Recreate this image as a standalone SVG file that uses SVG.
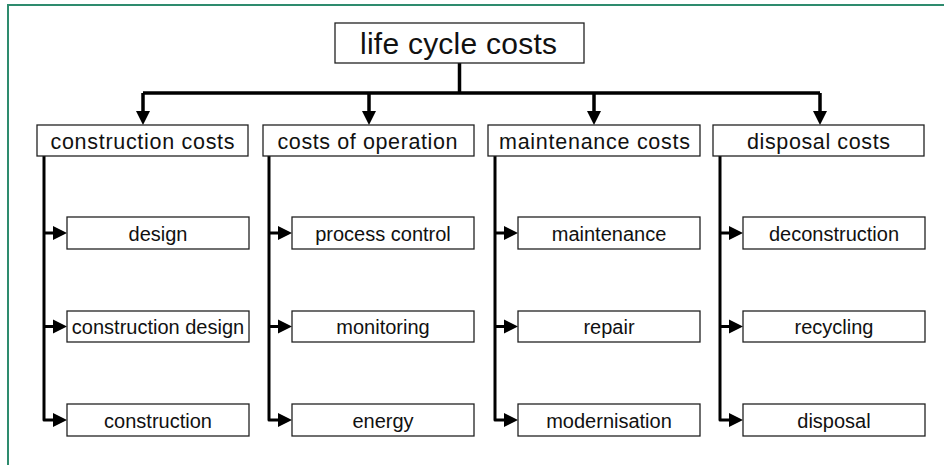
<svg xmlns="http://www.w3.org/2000/svg" width="944" height="465" viewBox="0 0 944 465">
<style>
.box{fill:#fff;stroke:#222;stroke-width:1.3}
.t{font-family:"Liberation Sans",Arial,sans-serif;fill:#111;text-anchor:middle}
.t1{font-size:30px}
.t2{font-size:21.5px}
.t3{font-size:20px}
.c{fill:none;stroke:#000;stroke-width:3.5;stroke-linejoin:round}
.b{fill:none;stroke:#000;stroke-width:3;stroke-linejoin:round}
.frame{fill:none;stroke:#2e8b6e;stroke-width:2}
</style>
<defs>
<marker id="ah" markerUnits="userSpaceOnUse" markerWidth="15" markerHeight="15" refX="0" refY="7" orient="auto" viewBox="0 0 15 14">
<path d="M0,0 L14,7 L0,14 z" fill="#000"/>
</marker>
</defs>
<rect width="944" height="465" fill="#fff"/>
<path class="frame" d="M8,465 V5 H944"/>
<g id="connectors">
<path class="c" d="M459.5,63 V93"/>
<path class="c" d="M143,93 H820"/>
<path class="c" d="M143,93 V111" marker-end="url(#ah)"/>
<path class="c" d="M369,93 V111" marker-end="url(#ah)"/>
<path class="c" d="M594,93 V111" marker-end="url(#ah)"/>
<path class="c" d="M820,93 V111" marker-end="url(#ah)"/>
<path class="b" d="M44,156 V420 H53" marker-end="url(#ah)"/>
<path class="b" d="M44,233 H53" marker-end="url(#ah)"/>
<path class="b" d="M44,326.5 H53" marker-end="url(#ah)"/>
<path class="b" d="M269,156 V420 H278" marker-end="url(#ah)"/>
<path class="b" d="M269,233 H278" marker-end="url(#ah)"/>
<path class="b" d="M269,326.5 H278" marker-end="url(#ah)"/>
<path class="b" d="M495,156 V420 H504" marker-end="url(#ah)"/>
<path class="b" d="M495,233 H504" marker-end="url(#ah)"/>
<path class="b" d="M495,326.5 H504" marker-end="url(#ah)"/>
<path class="b" d="M720,156 V420 H729" marker-end="url(#ah)"/>
<path class="b" d="M720,233 H729" marker-end="url(#ah)"/>
<path class="b" d="M720,326.5 H729" marker-end="url(#ah)"/>
</g>
<g id="root"><rect class="box" x="335" y="23" width="249" height="40"/><text class="t t1" x="458.5" y="53.5" textLength="197" lengthAdjust="spacing">life cycle costs</text></g>
<g id="construction-costs"><rect class="box" x="37" y="125" width="211" height="31"/><text class="t t2" x="142.5" y="148.5" textLength="184" lengthAdjust="spacing">construction costs</text></g>
<g id="costs-of-operation"><rect class="box" x="263" y="125" width="211" height="31"/><text class="t t2" x="367.5" y="148.5" textLength="180" lengthAdjust="spacing">costs of operation</text></g>
<g id="maintenance-costs"><rect class="box" x="488" y="125" width="212" height="31"/><text class="t t2" x="594.5" y="148.5" textLength="191" lengthAdjust="spacing">maintenance costs</text></g>
<g id="disposal-costs"><rect class="box" x="713" y="125" width="211" height="31"/><text class="t t2" x="818.5" y="148.5" textLength="143" lengthAdjust="spacing">disposal costs</text></g>
<g id="design"><rect class="box" x="67" y="217" width="182" height="32"/><text class="t t3" x="158" y="240.5">design</text></g>
<g id="construction-design"><rect class="box" x="67" y="311" width="182" height="31"/><text class="t t3" x="158" y="334">construction design</text></g>
<g id="construction"><rect class="box" x="67" y="404" width="182" height="32"/><text class="t t3" x="158" y="427.5">construction</text></g>
<g id="process-control"><rect class="box" x="292" y="217" width="182" height="32"/><text class="t t3" x="383" y="240.5">process control</text></g>
<g id="monitoring"><rect class="box" x="292" y="311" width="182" height="31"/><text class="t t3" x="383" y="334">monitoring</text></g>
<g id="energy"><rect class="box" x="292" y="404" width="182" height="32"/><text class="t t3" x="383" y="427.5">energy</text></g>
<g id="maintenance"><rect class="box" x="518" y="217" width="182" height="32"/><text class="t t3" x="609" y="240.5">maintenance</text></g>
<g id="repair"><rect class="box" x="518" y="311" width="182" height="31"/><text class="t t3" x="609" y="334">repair</text></g>
<g id="modernisation"><rect class="box" x="518" y="404" width="182" height="32"/><text class="t t3" x="609" y="427.5">modernisation</text></g>
<g id="deconstruction"><rect class="box" x="743" y="217" width="182" height="32"/><text class="t t3" x="834" y="240.5">deconstruction</text></g>
<g id="recycling"><rect class="box" x="743" y="311" width="182" height="31"/><text class="t t3" x="834" y="334">recycling</text></g>
<g id="disposal"><rect class="box" x="743" y="404" width="182" height="32"/><text class="t t3" x="834" y="427.5">disposal</text></g>
</svg>
